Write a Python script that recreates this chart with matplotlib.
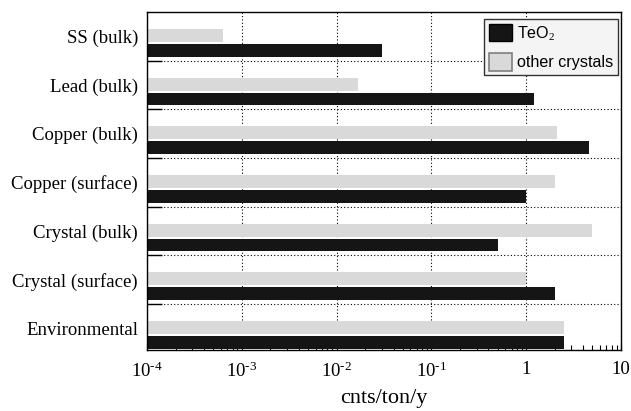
import matplotlib
matplotlib.use("Agg")
import matplotlib.pyplot as plt
import numpy as np
from matplotlib.ticker import FixedLocator, FuncFormatter, LogLocator, NullFormatter

# ---- datos (de arriba hacia abajo) ----
categorias = ["SS (bulk)", "Lead (bulk)", "Copper (bulk)", "Copper (surface)",
              "Crystal (bulk)", "Crystal (surface)", "Environmental"]
teo2 = [0.030, 1.2, 4.6, 1.0, 0.51, 2.0, 2.5]
otros_cristales = [6.2e-4, 0.017, 2.1, 2.0, 5.0, 1.0, 2.5]

plt.rcParams["font.family"] = "Liberation Serif"
plt.rcParams["mathtext.fontset"] = "custom"
plt.rcParams["mathtext.rm"] = "Liberation Serif"
plt.rcParams["mathtext.it"] = "Liberation Serif:italic"

NEGRO = "#151515"
GRIS = "#d9d9d9"

fig = plt.figure(figsize=(6.31, 4.11), dpi=100)
ax = fig.add_axes([147 / 631, 1 - 350 / 411, 474 / 631, 338 / 411])

n = len(categorias)
pos = np.arange(n)[::-1]  # SS arriba

ax.barh(pos + 0.017, otros_cristales, height=0.27, left=1e-5, color=GRIS,
        label="other crystals", zorder=2)
ax.barh(pos - 0.288, teo2, height=0.265, left=1e-5, color=NEGRO,
        label="TeO$_2$", zorder=2)

ax.set_xscale("log")
ax.set_xlim(1e-4, 10)
ax.set_ylim(-0.445, n - 0.5)

# eje y: etiquetas en el centro, marcas en los bordes
ax.yaxis.set_major_locator(FixedLocator(pos))
ax.set_yticklabels(categorias)
ax.yaxis.set_minor_locator(FixedLocator(np.arange(n - 1) + 0.5))
ax.tick_params(axis="y", which="major", length=0, pad=6.5, labelsize=13.5)
ax.tick_params(axis="y", which="minor", direction="in", length=10.5,
               width=1.0, color="black")

# eje x logarítmico
ax.xaxis.set_major_locator(LogLocator(base=10, numticks=10))
ax.xaxis.set_minor_locator(LogLocator(base=10, subs=np.arange(2, 10), numticks=20))
ax.xaxis.set_minor_formatter(NullFormatter())


def fmt_log(x, _):
    e = int(round(np.log10(x)))
    if e == 0:
        return "1"
    if e == 1:
        return "10"
    return r"$10^{\text{-}%d}$" % abs(e)


ax.xaxis.set_major_formatter(FuncFormatter(fmt_log))
ax.tick_params(axis="x", which="major", direction="in", length=5, width=0.8,
               pad=8, labelsize=13.5)
ax.tick_params(axis="x", which="minor", direction="in", length=3.5, width=0.8)

ax.grid(axis="x", which="major", linestyle=(0, (1, 2)), color="black",
        linewidth=0.8, zorder=1)
ax.grid(axis="y", which="minor", linestyle=(0, (1, 2)), color="black",
        linewidth=0.8, zorder=1)
ax.set_axisbelow(True)

for s in ax.spines.values():
    s.set_linewidth(1.0)
    s.set_zorder(5)

ax.set_xlabel("cnts/ton/y", fontsize=16, labelpad=6)

# leyenda (TeO2 primero)
h, l = ax.get_legend_handles_labels()
leg = ax.legend(h[::-1], l[::-1], loc="upper right",
                bbox_to_anchor=(0.9937, 0.979), borderaxespad=0,
                prop={"family": "Liberation Sans", "size": 11.6},
                handlelength=1.43, handleheight=1.3, handletextpad=0.3,
                labelspacing=0.65, borderpad=0.3, fancybox=False,
                framealpha=1, facecolor="#f4f4f4", edgecolor="#333333")
leg.get_frame().set_linewidth(1.0)
leg.legend_handles[0].set_edgecolor("black")
leg.legend_handles[1].set_edgecolor("#808080")
leg.legend_handles[1].set_linewidth(1.2)

fig.savefig("out.png", dpi=100, facecolor="white")
